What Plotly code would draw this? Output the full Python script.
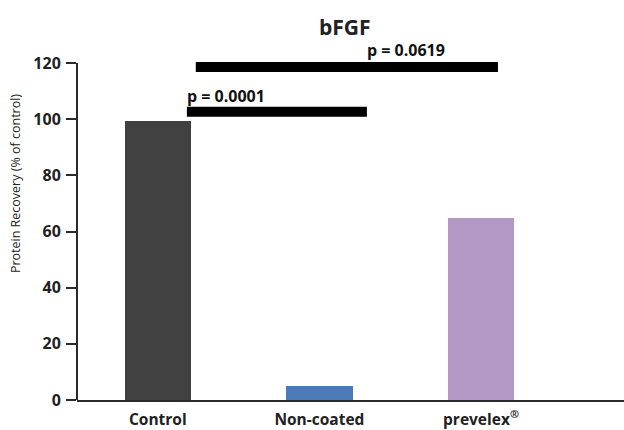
import plotly.graph_objects as go

categories = ["Control", "Non-coated", "prevelex<sup>®</sup>"]
values = [99.5, 5.0, 64.8]
colors = ["#414141", "#4a7bb6", "#b398c5"]
y_ticks = [0, 20, 40, 60, 80, 100, 120]

# significance comparisons
sig_x0 = [0.18, 0.235]
sig_x1 = [1.294, 2.105]
sig_y = [102.7, 118.6]
sig_labels = ["p = 0.0001", "p = 0.0619"]
sig_label_x = [0.186, 1.30]
sig_label_y = [108.3, 124.6]

xs = list(range(len(categories)))

W, H = 624, 430
L, R, T, B = 77, 0, 35, 28

fig = go.Figure()
fig.add_trace(go.Bar(x=xs, y=values, marker=dict(color=colors, line=dict(width=0)),
                     width=0.41, showlegend=False, hoverinfo="skip"))

FONT = "Open Sans"
shapes = []
for x0, x1, yv in zip(sig_x0, sig_x1, sig_y):
    shapes.append(dict(type="line", xref="x", yref="y", x0=x0, x1=x1, y0=yv, y1=yv,
                       line=dict(color="black", width=10)))
shapes.append(dict(type="line", xref="paper", yref="y", x0=0, x1=0, y0=0, y1=y_ticks[-1],
                   line=dict(color="#2b2b2b", width=2)))

annotations = []
for lx, ly, txt in zip(sig_label_x, sig_label_y, sig_labels):
    annotations.append(dict(x=lx, y=ly, xref="x", yref="y", text="<b>" + txt + "</b>",
                            showarrow=False, xanchor="left", yanchor="middle", xshift=-3,
                            font=dict(family=FONT, size=16, color="#111")))
annotations.append(dict(x=(345 - L) / (W - L - R), y=(H - B - 27) / (H - T - B),
                        xref="paper", yref="paper", text="<b>bFGF</b>",
                        xanchor="center", yanchor="middle",
                        showarrow=False, font=dict(family=FONT, size=21, color="#222")))
annotations.append(dict(x=-0.111, y=77, xref="paper", yref="y",
                        text="Protein Recovery (% of control)", showarrow=False, textangle=-90,
                        xanchor="center", yanchor="middle",
                        font=dict(family=FONT, size=12.5, color="#222")))

fig.update_layout(
    width=W, height=H,
    margin=dict(l=L, r=R, t=T, b=B),
    paper_bgcolor="white", plot_bgcolor="white",
    shapes=shapes, annotations=annotations,
    bargap=0,
    xaxis=dict(range=[-0.5, 2.885], tickmode="array", tickvals=xs,
               ticktext=["<b>" + c + "</b>" for c in categories],
               showline=True, linecolor="#2b2b2b", linewidth=2, ticks="",
               ticklabelstandoff=4,
               showgrid=False, zeroline=False, fixedrange=True,
               tickfont=dict(family=FONT, size=15.5, color="#222")),
    yaxis=dict(range=[0, 130], tickmode="array", tickvals=y_ticks,
               ticktext=["<b>%d</b>" % t for t in y_ticks],
               showline=False, ticks="outside", ticklen=10, tickwidth=1.5, tickcolor="#2b2b2b",
               ticklabelstandoff=2,
               showgrid=False, zeroline=False, fixedrange=True,
               tickfont=dict(family=FONT, size=16, color="#222")),
)
fig.write_html("out.html", config={"displayModeBar": False},
               post_script="document.body.style.margin='0';")
